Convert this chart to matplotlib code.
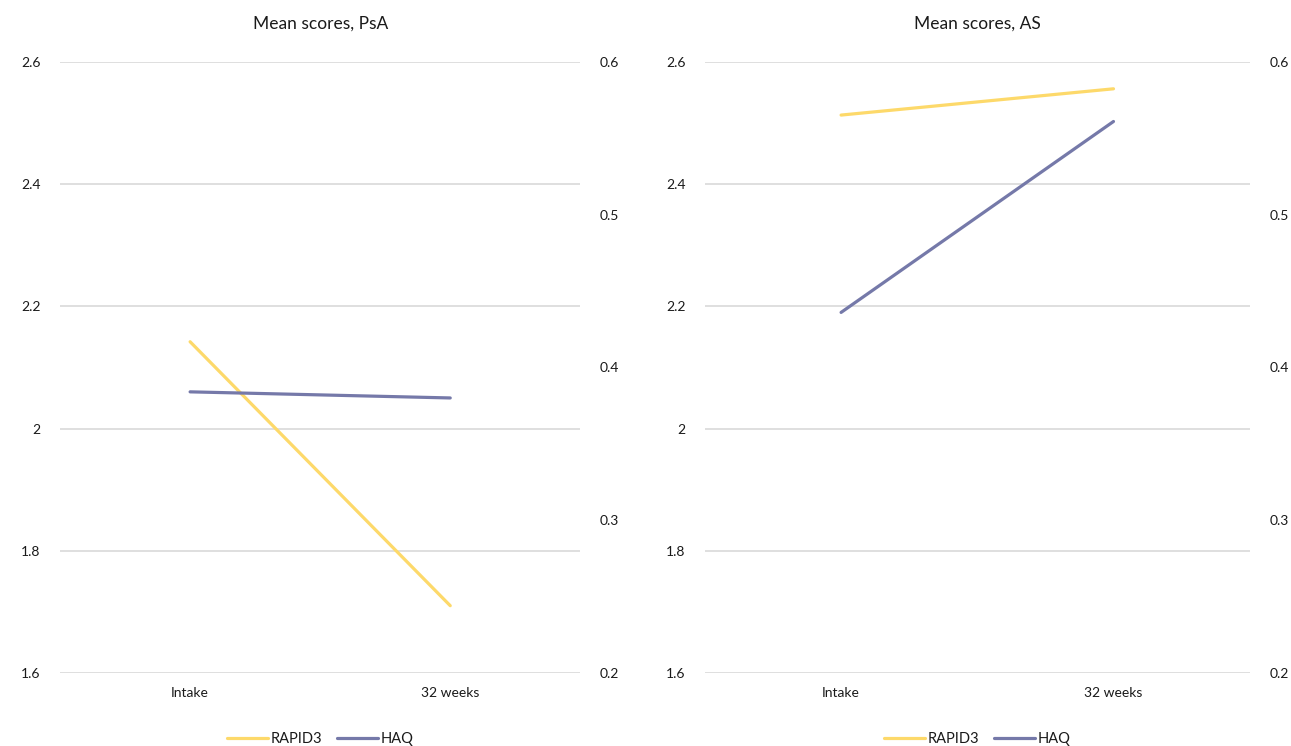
import matplotlib.pyplot as plt
from matplotlib.ticker import FuncFormatter

plt.rcParams['font.family'] = ['Lato', 'DejaVu Sans']

# data
timepoints = ['Intake', '32 weeks']
psa_rapid3 = [2.142, 1.71]
psa_haq = [0.384, 0.380]
as_rapid3 = [2.513, 2.556]
as_haq = [0.436, 0.561]

left_ticks = [1.6, 1.8, 2.0, 2.2, 2.4, 2.6]
right_ticks = [0.2, 0.3, 0.4, 0.5, 0.6]

yellow = '#FDD96A'
blue = '#7579A9'
grid_col = '#D9D9D9'
text_col = '#1a1a1a'

fmt = FuncFormatter(lambda v, p: f'{v:g}')


def draw_panel(fig, rect, title, rapid3, haq):
    ax = fig.add_axes(rect)
    ax2 = ax.twinx()
    x = list(range(len(timepoints)))

    l1, = ax.plot(x, rapid3, color=yellow, lw=2.3, solid_capstyle='round', label='RAPID3', zorder=3)
    l2, = ax2.plot(x, haq, color=blue, lw=2.3, solid_capstyle='round', label='HAQ', zorder=3)

    ax.set_xlim(-0.5, 1.5)
    ax.set_ylim(1.6, 2.6)
    ax2.set_ylim(0.2, 0.6)
    ax.set_yticks(left_ticks)
    ax2.set_yticks(right_ticks)
    ax.yaxis.set_major_formatter(fmt)
    ax2.yaxis.set_major_formatter(fmt)
    ax.set_xticks(x)
    ax.set_xticklabels(timepoints)

    ax.grid(axis='y', color=grid_col, lw=1.2)
    ax.set_axisbelow(True)
    for a in (ax, ax2):
        for s in a.spines.values():
            s.set_visible(False)
        a.tick_params(length=0, labelsize=10, colors=text_col)
    ax.tick_params(axis='x', pad=10)
    ax.tick_params(axis='y', pad=14)
    ax2.tick_params(axis='y', pad=14)

    ax.set_title(title, fontsize=12.5, color=text_col, pad=24)
    ax.legend([l1, l2], ['RAPID3', 'HAQ'], loc='upper center', bbox_to_anchor=(0.5, -0.075),
              ncol=2, frameon=False, fontsize=10.5, handlelength=2.8, columnspacing=1.0,
              handletextpad=0.2, labelcolor=text_col)
    return ax


fig = plt.figure(figsize=(12.91, 7.46), dpi=100)
draw_panel(fig, [0.0465, 0.098, 0.403, 0.819], 'Mean scores, PsA', psa_rapid3, psa_haq)
draw_panel(fig, [0.546, 0.098, 0.422, 0.819], 'Mean scores, AS', as_rapid3, as_haq)

plt.savefig('out.png', dpi=100)
plt.close()
